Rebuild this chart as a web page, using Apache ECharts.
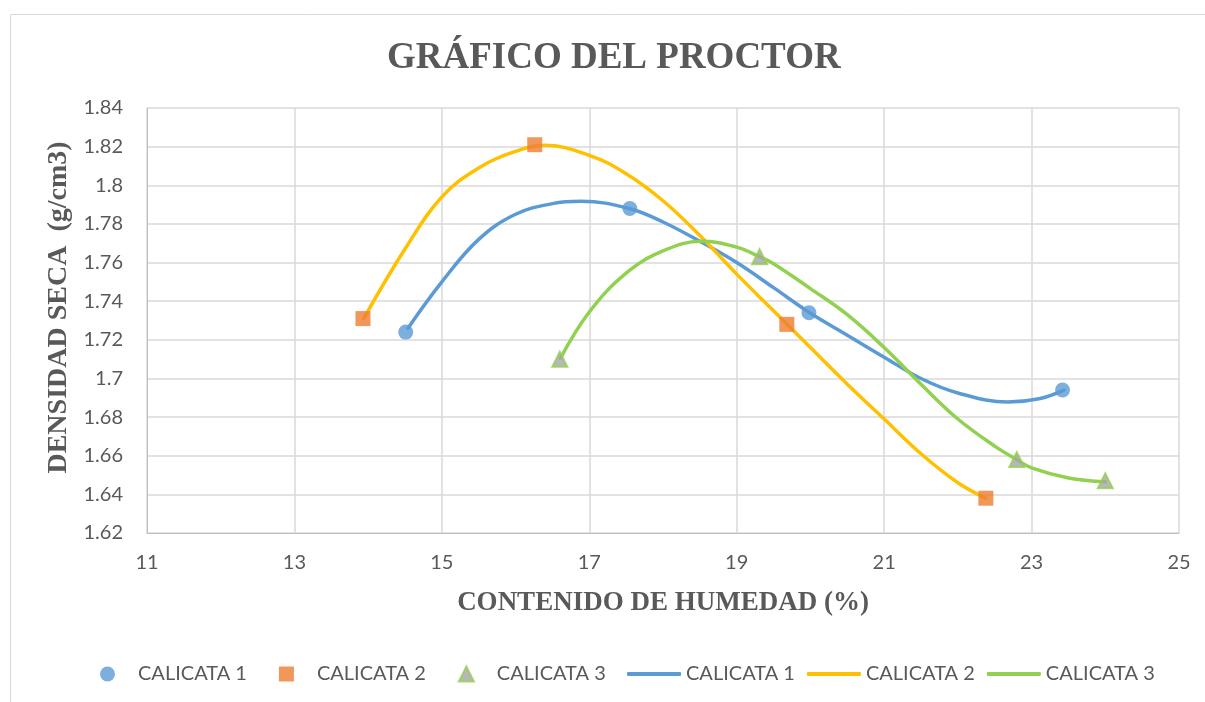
<!DOCTYPE html>
<html>
<head>
<meta charset="utf-8">
<script src="https://cdn.jsdelivr.net/npm/echarts@6/dist/echarts.min.js"></script>
<style>html,body{margin:0;padding:0;background:#fff}#c{width:1205px;height:702px}</style>
</head>
<body>
<div id="c"></div>
<script>
// Measured points (scatter)
const calicata1Pts = [[14.51,1.724],[17.55,1.788],[19.98,1.734],[23.42,1.694]];
const calicata2Pts = [[13.93,1.731],[16.26,1.821],[19.68,1.728],[22.38,1.638]];
const calicata3Pts = [[16.60,1.710],[19.31,1.763],[22.80,1.658],[24.00,1.647]];
// Curve points
const calicata1Line = [[14.54,1.726],[15.0,1.750],[15.5,1.772],[16.0,1.785],[16.5,1.7905],[16.89,1.7917],[17.54,1.788],[18.0,1.781],[18.5,1.771],[19.0,1.760],[19.5,1.747],[19.99,1.734],[20.5,1.7224],[21.0,1.711],[21.5,1.700],[22.0,1.6925],[22.68,1.6878],[23.1,1.6895],[23.44,1.694]];
const calicata2Line = [[13.94,1.731],[14.5,1.767],[15.0,1.794],[15.5,1.809],[16.0,1.8175],[16.39,1.8207],[17.0,1.8155],[17.5,1.806],[18.0,1.792],[18.5,1.774],[19.0,1.754],[19.5,1.735],[20.0,1.716],[20.5,1.697],[21.0,1.679],[21.5,1.661],[22.0,1.646],[22.38,1.638]];
const calicata3Line = [[16.61,1.7105],[17.0,1.7344],[17.5,1.7545],[18.0,1.766],[18.52,1.771],[19.0,1.768],[19.31,1.763],[19.5,1.7594],[20.0,1.7465],[20.5,1.733],[21.0,1.716],[21.5,1.697],[22.0,1.679],[22.5,1.665],[22.80,1.658],[23.0,1.6537],[23.5,1.6485],[24.0,1.6465]];
const seriesNames = ['CALICATA 1','CALICATA 2','CALICATA 3'];
const xTicks = {min:11, max:25, interval:2};
const yTicks = {min:1.62, max:1.84, interval:0.02};

const txt = '#595959';
const lineNames = seriesNames.map(n => n + ' ');
const chart = echarts.init(document.getElementById('c'));
chart.setOption({
  backgroundColor:'#fff',
  animation:false,
  title:{text:'GRÁFICO DEL PROCTOR', left:382, top:35,
    textStyle:{fontFamily:'Liberation Serif', fontWeight:'bold', fontSize:37, color:txt}},
  grid:{left:147, right:26, top:108, bottom:169},
  legend:[
    {left:95, top:659, itemWidth:15, itemHeight:15, itemGap:32,
      formatter: n => n.trim(),
      textStyle:{fontFamily:'Lato', fontSize:20, color:txt, width:111, padding:[0,0,0,18]},
      data:seriesNames},
    {left:622, top:659, itemWidth:54, itemHeight:4, itemGap:12, icon:'roundRect',
      formatter: n => n.trim(),
      textStyle:{fontFamily:'Lato', fontSize:20, color:txt, width:110},
      data:lineNames}
  ],
  xAxis:{type:'value', min:xTicks.min, max:xTicks.max, interval:xTicks.interval,
    name:'CONTENIDO DE HUMEDAD (%)', nameLocation:'middle', nameGap:57,
    nameTextStyle:{fontFamily:'Liberation Serif', fontWeight:'bold', fontSize:27, color:txt},
    axisLine:{lineStyle:{color:'#bfbfbf'}}, axisTick:{show:false},
    axisLabel:{fontFamily:'Lato', fontSize:20, color:txt, margin:20},
    splitLine:{lineStyle:{color:'#d9d9d9', width:1.5}}},
  yAxis:{type:'value', min:yTicks.min, max:yTicks.max, interval:yTicks.interval,
    name:'DENSIDAD SECA  (g/cm3)', nameLocation:'middle', nameGap:74,
    nameTextStyle:{fontFamily:'Liberation Serif', fontWeight:'bold', fontSize:28, color:txt, padding:[0,0,0,26]},
    axisLine:{show:true, lineStyle:{color:'#bfbfbf'}}, axisTick:{show:false},
    axisLabel:{fontFamily:'Lato', fontSize:20, color:txt, margin:24},
    splitLine:{lineStyle:{color:'#d9d9d9', width:1.5}}},
  series:[
    {name:seriesNames[0], type:'scatter', data:calicata1Pts, symbol:'circle', symbolSize:15, z:5,
      itemStyle:{color:'#5B9BD5'}},
    {name:seriesNames[1], type:'scatter', data:calicata2Pts, symbol:'rect', symbolSize:15, z:5,
      itemStyle:{color:'#ED7D31'}},
    {name:seriesNames[2], type:'scatter', data:calicata3Pts, symbol:'triangle', symbolSize:15, z:5,
      itemStyle:{color:'#A5A5A5', borderColor:'#92D050', borderWidth:2}},
    {name:lineNames[0], type:'line', data:calicata1Line, symbol:'none', smooth:0.4, z:3,
      lineStyle:{color:'#5B9BD5', width:3.5, cap:'round'}, itemStyle:{color:'#5B9BD5'}},
    {name:lineNames[1], type:'line', data:calicata2Line, symbol:'none', smooth:0.4, z:3,
      lineStyle:{color:'#FFC000', width:3.5, cap:'round'}, itemStyle:{color:'#FFC000'}},
    {name:lineNames[2], type:'line', data:calicata3Line, symbol:'none', smooth:0.4, z:3,
      lineStyle:{color:'#92D050', width:3.5, cap:'round'}, itemStyle:{color:'#92D050'}}
  ],
  graphic:[{type:'rect', left:8, top:12, shape:{width:1300, height:800}, silent:true, z:-1,
    style:{fill:'none', stroke:'#d9d9d9', lineWidth:1}}]
});
</script>
</body>
</html>
